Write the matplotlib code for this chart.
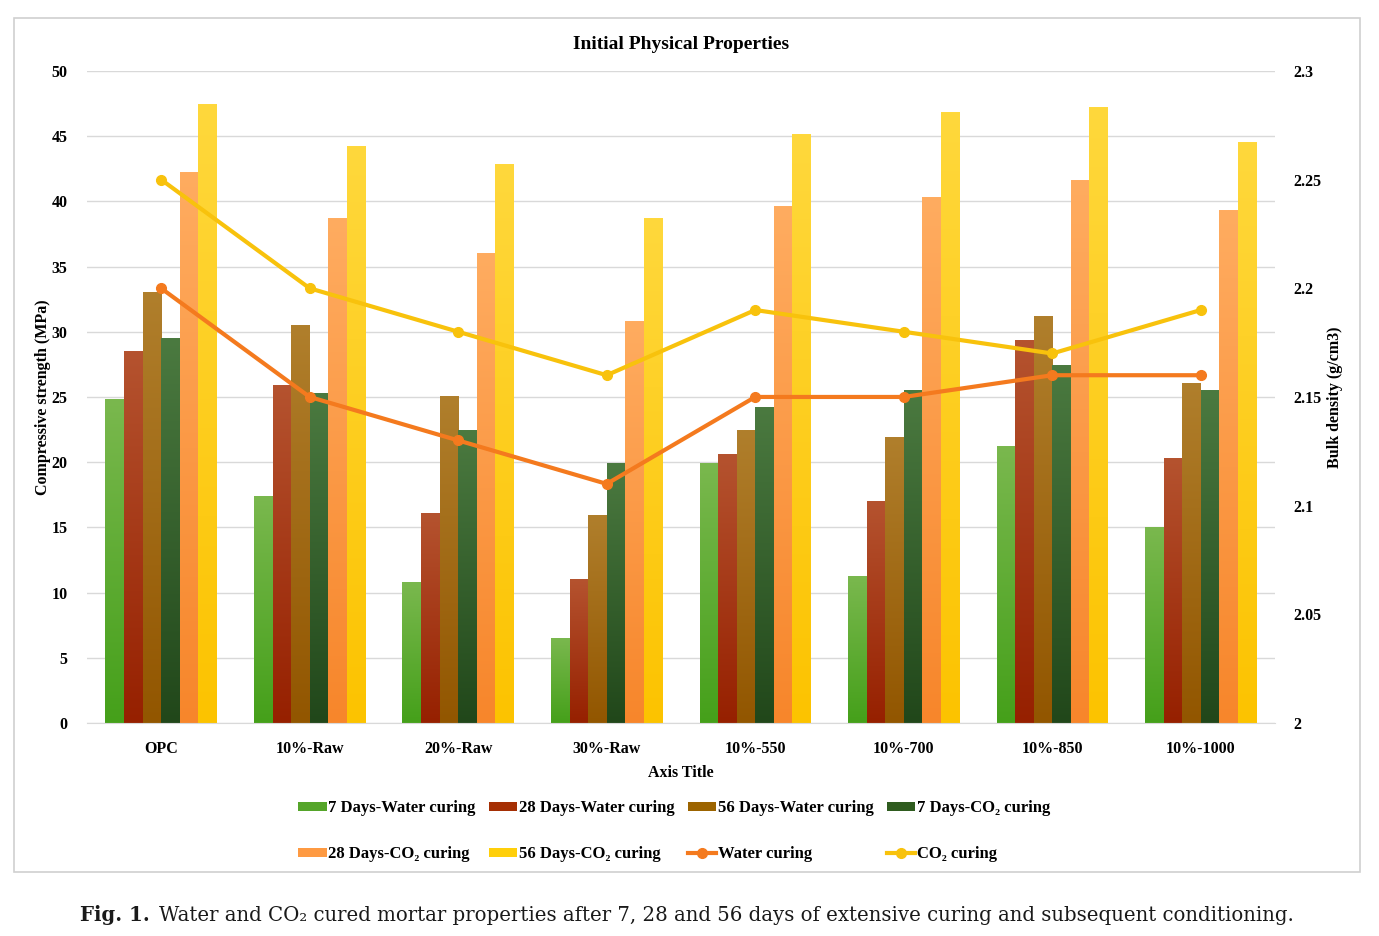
import matplotlib.pyplot as plt
import numpy as np
from matplotlib.patches import Rectangle
from matplotlib.colors import LinearSegmentedColormap

plt.rcParams['font.family'] = ['Liberation Serif', 'DejaVu Serif']

# datos
categories = ['OPC', '10%-Raw', '20%-Raw', '30%-Raw', '10%-550', '10%-700', '10%-850', '10%-1000']
water_7 = [24.8, 17.4, 10.8, 6.5, 19.9, 11.2, 21.2, 15.0]
water_28 = [28.5, 25.9, 16.1, 11.0, 20.6, 17.0, 29.3, 20.3]
water_56 = [33.0, 30.5, 25.0, 15.9, 22.4, 21.9, 31.2, 26.0]
co2_7 = [29.5, 25.3, 22.4, 19.9, 24.2, 25.5, 27.4, 25.5]
co2_28 = [42.2, 38.7, 36.0, 30.8, 39.6, 40.3, 41.6, 39.3]
co2_56 = [47.4, 44.2, 42.8, 38.7, 45.1, 46.8, 47.2, 44.5]
density_water = [2.20, 2.15, 2.13, 2.11, 2.15, 2.15, 2.16, 2.16]
density_co2 = [2.25, 2.20, 2.18, 2.16, 2.19, 2.18, 2.17, 2.19]

bar_series = [water_7, water_28, water_56, co2_7, co2_28, co2_56]
bar_labels = ['7 Days-Water curing', '28 Days-Water curing', '56 Days-Water curing',
              '7 Days-CO\u2082 curing', '28 Days-CO\u2082 curing', '56 Days-CO\u2082 curing']
bar_colors = ['#55a52a', '#a52f04', '#9c6400', '#2f5c1f', '#fe9a42', '#ffcf0a']
# degradado: (abajo, arriba)
bar_grads = [('#45a01a', '#7ab84e'), ('#962000', '#b5532f'), ('#925600', '#b07f2c'),
             ('#21471a', '#4b7a40'), ('#f7862b', '#ffac60'), ('#fcc300', '#ffd83c')]

fig = plt.figure(figsize=(13.79, 9.36), dpi=100)
ax = fig.add_axes([0.063, 0.2276, 0.8616, 0.6966])

x = np.arange(len(categories))
w = 0.125
grad = np.linspace(0, 1, 256).reshape(-1, 1)
handles = []
for i, (vals, lab, col) in enumerate(zip(bar_series, bar_labels, bar_colors)):
    b = ax.bar(x + (i - 2.5) * w, vals, w, color=col, label=lab, zorder=2)
    cmap = LinearSegmentedColormap.from_list('g%d' % i, bar_grads[i])
    for r in b:
        x0, h = r.get_x(), r.get_height()
        ax.imshow(grad, extent=[x0, x0 + w, 0, h], origin='lower', aspect='auto',
                  cmap=cmap, zorder=2.1)
    handles.append(b)

ax.set_xlim(-0.5, len(categories) - 0.5)
ax.set_ylim(0, 50)
ax.set_yticks(range(0, 51, 5))
ax.set_xticks(x)
ax.set_xticklabels(categories)
ax.grid(axis='y', color='#d9d9d9', linewidth=1, zorder=0)
ax.set_axisbelow(True)
for s in ['top', 'right', 'left']:
    ax.spines[s].set_visible(False)
ax.spines['bottom'].set_color('#d9d9d9')
ax.tick_params(axis='both', length=0, labelsize=11.5)
ax.tick_params(axis='x', pad=13)
ax.tick_params(axis='y', pad=14)
for t in ax.get_xticklabels() + ax.get_yticklabels():
    t.set_fontweight('bold')
ax.set_ylabel('Compressive strength (MPa)', fontsize=11.5, fontweight='bold', labelpad=0)
ax.set_xlabel('Axis Title', fontsize=11.5, fontweight='bold', labelpad=6)

ax2 = ax.twinx()
ax2.set_ylim(2.0, 2.3)
ax2.set_yticks([2.0, 2.05, 2.1, 2.15, 2.2, 2.25, 2.3])
ax2.set_yticklabels(['2', '2.05', '2.1', '2.15', '2.2', '2.25', '2.3'])
for s in ax2.spines.values():
    s.set_visible(False)
ax2.tick_params(axis='y', length=0, labelsize=11.5, pad=13)
for t in ax2.get_yticklabels():
    t.set_fontweight('bold')
ax2.set_ylabel('Bulk density (g/cm3)', fontsize=11.5, fontweight='bold', labelpad=4)

l1, = ax2.plot(x, density_water, color='#f47a1e', lw=3, marker='o', ms=7, label='Water curing', zorder=3)
l2, = ax2.plot(x, density_co2, color='#f8c20c', lw=3, marker='o', ms=7, label='CO\u2082 curing', zorder=3)
handles += [l1, l2]

ax.set_title('Initial Physical Properties', fontsize=14, fontweight='bold', pad=16)

order = [0, 4, 1, 5, 2, 6, 3, 7]
fig.legend([handles[i] for i in order], [handles[i].get_label() for i in order],
           loc='center', bbox_to_anchor=(0.489, 0.112), ncol=4, frameon=False,
           prop={'size': 12, 'weight': 'bold'}, handlelength=1.7, handleheight=0.5,
           columnspacing=0.8, handletextpad=0.1, labelspacing=1.8)

# marco exterior
fig.patches.append(Rectangle((0.0102, 0.0684), 0.976, 0.912, transform=fig.transFigure,
                             fill=False, edgecolor='#d0d0d0', lw=1.2))

# pie de figura
t1 = fig.text(0.058, 0.022, 'Fig. 1.', fontsize=14.2, fontweight='bold', color='#1a1a1a',
              va='center', family='DejaVu Serif')
fig.canvas.draw()
bb = t1.get_window_extent()
x2 = (bb.x1 + 9) / fig.bbox.width
fig.text(x2, 0.022, 'Water and CO\u2082 cured mortar properties after 7, 28 and 56 days of extensive curing and subsequent conditioning.',
         fontsize=14.2, color='#1a1a1a', va='center', family='DejaVu Serif')

plt.savefig('out.png', dpi=100)
plt.close()
